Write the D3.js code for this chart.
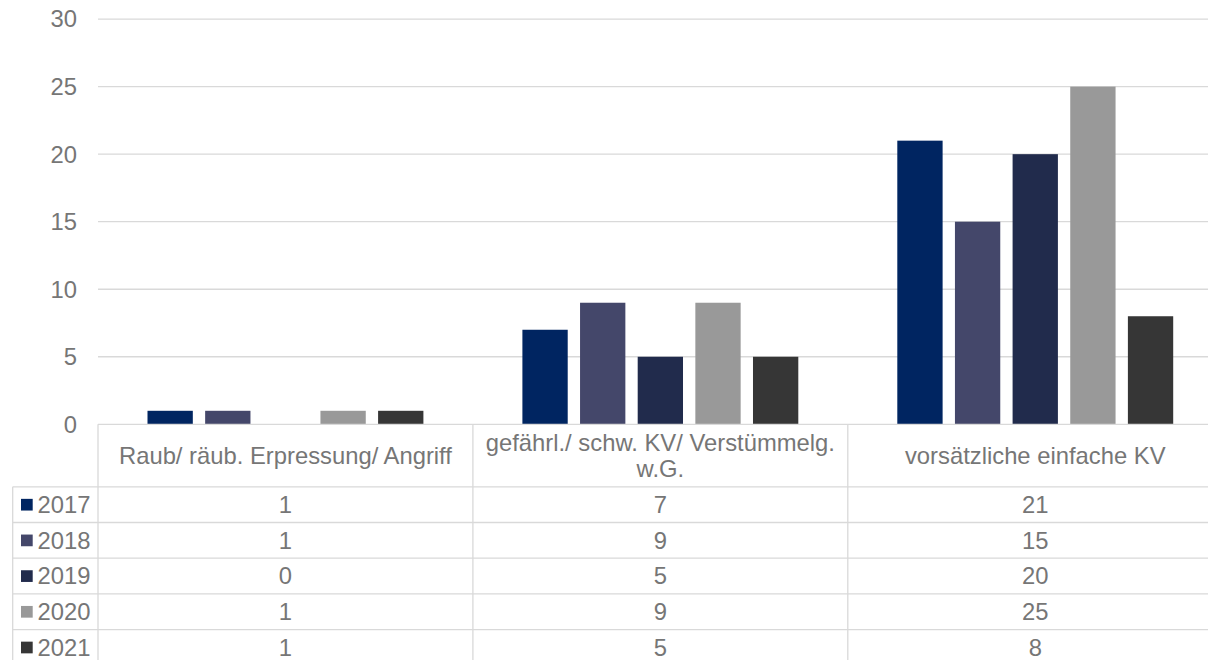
<!DOCTYPE html>
<html><head><meta charset="utf-8">
<script src="https://cdn.jsdelivr.net/npm/d3@7"></script>
<style>
html,body{margin:0;padding:0;background:#fff;}
svg{display:block;font-family:"Liberation Sans",Arial,sans-serif;}
</style></head>
<body>
<svg id="chart" width="1208" height="660"></svg>
<script>
const categories = ["Raub/ räub. Erpressung/ Angriff", "gefährl./ schw. KV/ Verstümmelg. w.G.", "vorsätzliche einfache KV"];
const categoryLines = [["Raub/ räub. Erpressung/ Angriff"], ["gefährl./ schw. KV/ Verstümmelg.", "w.G."], ["vorsätzliche einfache KV"]];
const years = ["2017", "2018", "2019", "2020", "2021"];
const v2017 = [1, 7, 21];
const v2018 = [1, 9, 15];
const v2019 = [0, 5, 20];
const v2020 = [1, 9, 25];
const v2021 = [1, 5, 8];
const seriesValues = [v2017, v2018, v2019, v2020, v2021];
const colors = ["#002561", "#44476a", "#212b4c", "#999999", "#363636"];
const yTicks = [0, 5, 10, 15, 20, 25, 30];

(function () {
const svg = d3.select("#chart");
const textColor = "#767676";
const gridColor = "#d9d9d9";
const fs = "23.8px";

const plotLeft = 98, catW = 374.9, plotTop = 19.1, plotBottom = 424.3;
const x = d3.scaleBand().domain(categories).range([plotLeft, plotLeft + catW * 3]).paddingInner(0).paddingOuter(0);
const pad = 49.5;
const xs = d3.scaleBand().domain(years).range([pad, x.bandwidth() - pad]).paddingInner(0.214).paddingOuter(0);
const y = d3.scaleLinear().domain([0, 30]).range([plotBottom, plotTop]);

// gridlines
svg.append("g").selectAll("line").data(yTicks.filter(d => d > 0)).join("line")
  .attr("x1", plotLeft).attr("x2", 1208)
  .attr("y1", d => y(d)).attr("y2", d => y(d))
  .attr("stroke", gridColor).attr("stroke-width", 1.3);

// y axis labels via axis
const yAxis = d3.axisLeft(y).tickValues(yTicks).tickSize(0).tickPadding(0);
const ga = svg.append("g").attr("transform", `translate(77,0)`).call(yAxis);
ga.select(".domain").remove();
ga.selectAll("text").attr("fill", textColor).style("font-size", fs)
  .style("font-family", "Liberation Sans, Arial, sans-serif").attr("dy", "0.33em");

// bars
years.forEach((yr, i) => {
  svg.append("g").selectAll("rect").data(categories).join("rect")
    .attr("x", (c) => x(c) + xs(yr))
    .attr("width", xs.bandwidth())
    .attr("y", (c, j) => y(seriesValues[i][j]))
    .attr("height", (c, j) => y(0) - y(seriesValues[i][j]))
    .attr("fill", colors[i]);
});

// data table
const headerBottom = 486.8, rowH = 35.7;
const tableRight = plotLeft + catW * 3;
const lineG = svg.append("g").attr("stroke", "#d9d9d9").attr("stroke-width", 1.3);
lineG.append("line").attr("x1", plotLeft).attr("x2", tableRight).attr("y1", plotBottom).attr("y2", plotBottom);
const rowYs = years.map((d, i) => headerBottom + i * rowH);
lineG.selectAll("line.row").data(rowYs).join("line").attr("class", "row")
  .attr("x1", 12.7).attr("x2", tableRight).attr("y1", d => d).attr("y2", d => d);
lineG.append("line").attr("x1", 12.7).attr("x2", 12.7).attr("y1", headerBottom).attr("y2", 670);
categories.forEach((c) => {
  lineG.append("line").attr("x1", x(c)).attr("x2", x(c)).attr("y1", plotBottom).attr("y2", 670);
});
lineG.append("line").attr("x1", tableRight).attr("x2", tableRight).attr("y1", plotBottom).attr("y2", 670);

// header texts
categories.forEach((c, j) => {
  const lines = categoryLines[j];
  const cx = x(c) + x.bandwidth() / 2;
  const t = svg.append("text").attr("x", cx).attr("text-anchor", "middle")
    .attr("fill", textColor).style("font-size", fs);
  if (lines.length === 1) {
    t.attr("y", 455.2).attr("dy", "0.35em").text(lines[0]);
  } else {
    lines.forEach((l, k) => {
      t.append("tspan").attr("x", cx).attr("y", 442.5 + k * 26.5).attr("dy", "0.35em").text(l);
    });
  }
});

// row labels with swatches and values
years.forEach((yr, i) => {
  const cy = rowYs[i] + rowH / 2;
  svg.append("rect").attr("x", 21).attr("y", cy - 5.8).attr("width", 11.7).attr("height", 11.7).attr("fill", colors[i]);
  svg.append("text").attr("x", 37.5).attr("y", cy).attr("dy", "0.35em")
    .attr("fill", textColor).style("font-size", fs).text(yr);
  categories.forEach((c, j) => {
    svg.append("text").attr("x", x(c) + x.bandwidth() / 2).attr("y", cy).attr("dy", "0.35em")
      .attr("text-anchor", "middle").attr("fill", textColor).style("font-size", fs)
      .text(seriesValues[i][j]);
  });
});
})();
</script>
</body></html>
